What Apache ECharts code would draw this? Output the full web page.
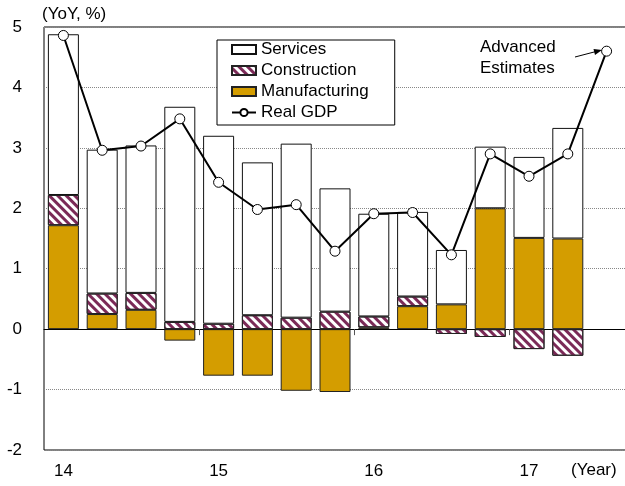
<!DOCTYPE html>
<html>
<head>
<meta charset="utf-8">
<title>Real GDP contributions</title>
<script src="https://cdn.jsdelivr.net/npm/echarts@6/dist/echarts.min.js"></script>
<style>
  html, body { margin: 0; padding: 0; background: #fff; }
  #chart { width: 625px; height: 486px; }
</style>
</head>
<body>
<div id="chart"></div>
<script>
// quarters, 14Q1 .. 17Q3 (last one: advanced estimate, GDP only)
var quarters = ['14Q1','14Q2','14Q3','14Q4','15Q1','15Q2','15Q3','15Q4',
                '16Q1','16Q2','16Q3','16Q4','17Q1','17Q2','17Q3'];
var yearLabels = ['14','','','','15','','','','16','','','','17','',''];

var manufacturing = [1.72, 0.25, 0.32, -0.19, -0.77, -0.77, -1.02, -1.04, 0.03, 0.38, 0.41, 2.00, 1.51, 1.50, null];
var construction  = [0.50, 0.34, 0.28, 0.12, 0.09, 0.23, 0.19, 0.29, 0.18, 0.16, -0.08, -0.13, -0.33, -0.44, null];
var services      = [2.66, 2.38, 2.44, 3.56, 3.11, 2.53, 2.88, 2.04, 1.70, 1.40, 0.90, 1.02, 1.34, 1.83, null];
var realGdp       = [4.86, 2.96, 3.03, 3.48, 2.43, 1.98, 2.06, 1.29, 1.91, 1.93, 1.23, 2.90, 2.53, 2.90, 4.60];

var font = 'Liberation Sans, Arial, sans-serif';
var hatch = {
  symbol: 'rect',
  symbolSize: 1,
  color: '#7b2a57',
  dashArrayX: [1, 0],
  dashArrayY: [3, 3],
  rotation: Math.PI / 4
};

var chart = echarts.init(document.getElementById('chart'));

// year separators on the zero line
function yearTick(index) { return index === 4 || index === 8 || index === 12; }

var option = {
  animation: false,
  textStyle: { fontFamily: font },
  grid: {
    left: 44, right: -1, top: 27, bottom: 36,
    outerBoundsMode: 'none',
    show: true, borderColor: '#000', borderWidth: 1, backgroundColor: 'transparent'
  },
  legend: {
    orient: 'vertical',
    left: 217, top: 40,
    padding: [1, 26, 4, 14],
    itemWidth: 24, itemHeight: 9, itemGap: 4,
    borderColor: '#000', borderWidth: 1,
    backgroundColor: '#fff',
    textStyle: { fontSize: 17, color: '#000', fontFamily: font, lineHeight: 16 },
    data: [
      { name: 'Services', icon: 'rect' },
      { name: 'Construction', icon: 'rect', itemStyle: { decal: hatch } },
      { name: 'Manufacturing', icon: 'rect' },
      { name: 'Real GDP' }
    ]
  },
  xAxis: [
    {
      type: 'category', data: quarters, position: 'bottom',
      axisLine: { show: false, onZero: false },
      axisTick: { show: false },
      axisLabel: {
        interval: 0, margin: 13, fontSize: 17, color: '#000',
        formatter: function (v, i) { return yearLabels[i]; }
      }
    },
    {
      type: 'category', data: quarters, position: 'bottom',
      axisLine: { show: true, onZero: true, lineStyle: { color: '#000', width: 1 } },
      axisTick: { show: true, interval: yearTick, length: 6, lineStyle: { color: '#555' } },
      axisLabel: { show: false }
    }
  ],
  yAxis: {
    type: 'value', min: -2, max: 5, interval: 1,
    name: '(YoY, %)', nameLocation: 'end', nameGap: 4,
    nameTextStyle: { align: 'left', fontSize: 17, color: '#000', padding: [0, 0, 0, -2] },
    axisLine: { show: false },
    axisTick: { show: false },
    axisLabel: { fontSize: 17, color: '#000', margin: 22 },
    splitLine: { lineStyle: { color: '#888', type: 'dotted', width: 1 } }
  },
  series: [
    {
      name: 'Manufacturing', type: 'bar', stack: 'c', barWidth: 31, data: manufacturing,
      itemStyle: { color: '#d49d00', borderColor: '#222', borderWidth: 1 }
    },
    {
      name: 'Construction', type: 'bar', stack: 'c', barWidth: 31, data: construction,
      itemStyle: { color: '#fff', borderColor: '#222', borderWidth: 1, decal: hatch }
    },
    {
      name: 'Services', type: 'bar', stack: 'c', barWidth: 31, data: services,
      itemStyle: { color: '#fff', borderColor: '#111', borderWidth: 1 }
    },
    {
      name: 'Real GDP', type: 'line', data: realGdp, z: 5,
      symbol: 'circle', symbolSize: 10,
      lineStyle: { color: '#000', width: 2 },
      itemStyle: { color: '#fff', borderColor: '#000', borderWidth: 1 }
    }
  ],
  graphic: [
    {
      type: 'text', left: 480, top: 37,
      style: { text: 'Advanced\nEstimates', font: '17px ' + font, fill: '#000', lineHeight: 21 }
    },
    {
      type: 'line',
      shape: { x1: 575, y1: 57, x2: 596, y2: 51.5 },
      style: { stroke: '#000', lineWidth: 1 }
    },
    {
      type: 'polygon',
      shape: { points: [[602, 50], [595, 54.9], [593.5, 49.1]] },
      style: { fill: '#000' }
    },
    {
      type: 'text', left: 571, top: 462,
      style: { text: '(Year)', font: '17px ' + font, fill: '#000' }
    }
  ]
};

chart.setOption(option);
</script>
</body>
</html>
